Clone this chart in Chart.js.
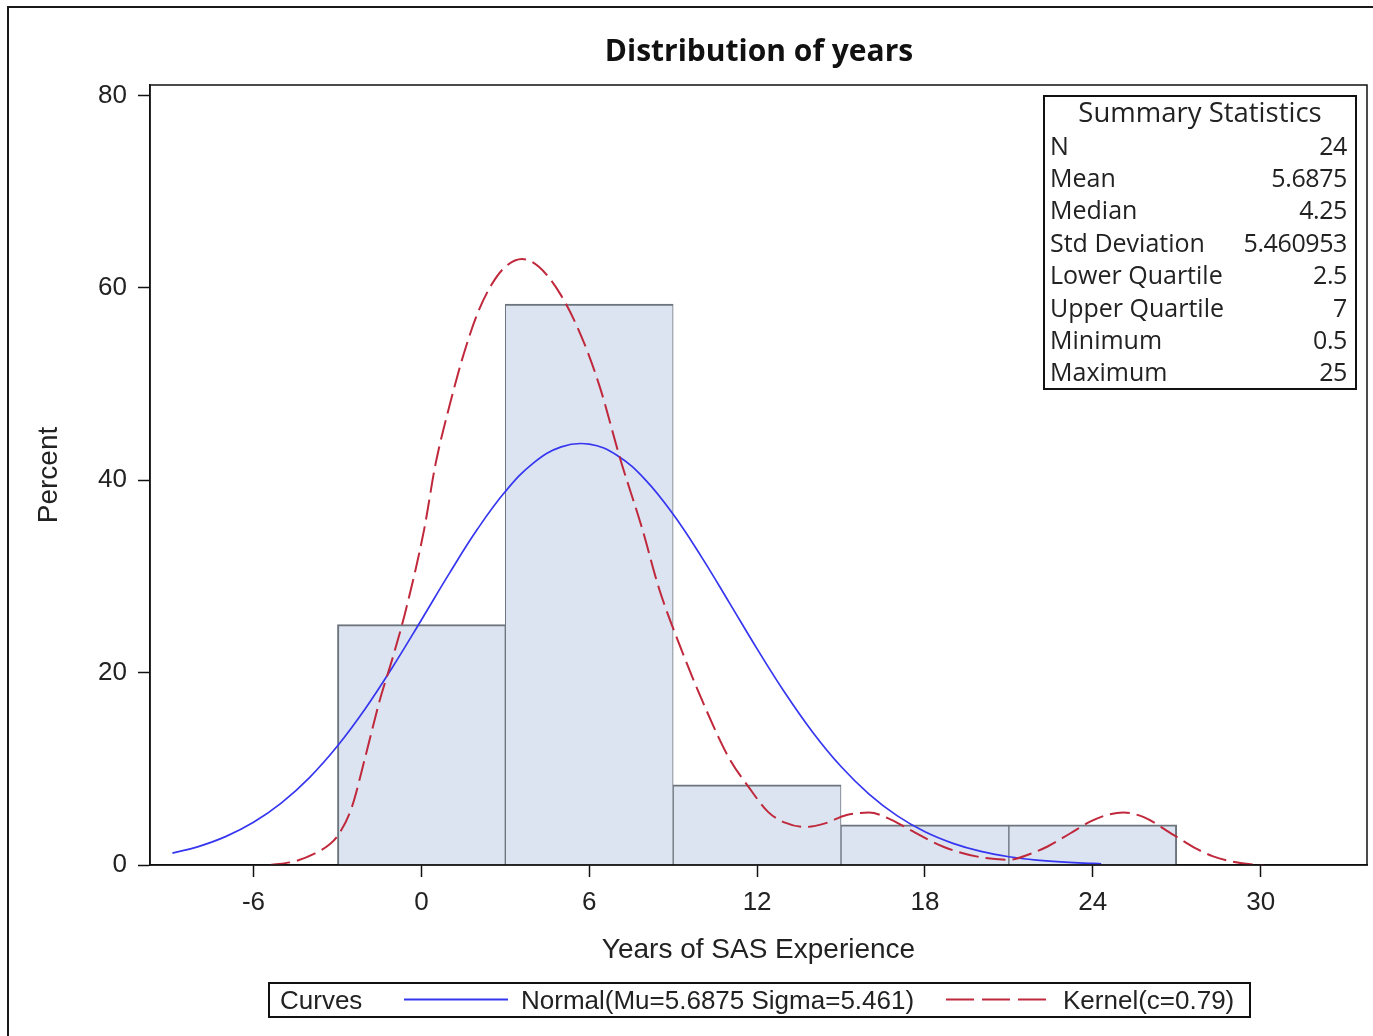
<!DOCTYPE html>
<html>
<head>
<meta charset="utf-8">
<script src="https://cdn.jsdelivr.net/npm/chart.js@4.4.1/dist/chart.umd.min.js"></script>
<style>
  html, body { margin: 0; padding: 0; background: #fff; overflow: hidden; }
  #wrap { position: relative; width: 1373px; height: 1036px; }
  #frame { position: absolute; left: 7px; top: 6px; width: 1400px; height: 1100px;
           border-left: 2px solid #1a1a1a; border-top: 2px solid #1a1a1a; pointer-events: none; }
  canvas { position: absolute; left: 0; top: 0; }
  #title { position: absolute; left: 459px; top: 32px; width: 600px; height: 36px; line-height: 36px;
           text-align: center; font-family: "Open Sans", sans-serif; font-weight: bold; font-size: 30px; color: #111; }
  .box { position: absolute; border: 2px solid #111; background: #fff; box-sizing: border-box; }
  .row { position: absolute; height: 32px; line-height: 32px; white-space: nowrap;
         font-family: "Open Sans", sans-serif; font-size: 25px; color: #222; }
  .leg { position: absolute; height: 34px; line-height: 34px; white-space: nowrap;
         font-family: "Liberation Sans", Arial, sans-serif; font-size: 26px; color: #222; }
</style>
</head>
<body>
<div id="wrap">
  <canvas id="c" width="1373" height="1036"></canvas>
  <div id="frame"></div>
  <div id="title"></div>
  <div id="stats" class="box" style="left:1043px; top:95px; width:314px; height:295px;"></div>
  <div id="legend" class="box" style="left:268px; top:982px; width:983px; height:36px;"></div>
</div>
<script>
// ---------- data ----------
const binCenters  = [0, 6, 12, 18, 24];
const binPercents = [25, 58.33, 8.33, 4.17, 4.17];

const normalX = [-8.9, -8, -7, -6, -5, -4, -3, -2, -1, 0, 1, 2, 3, 4, 5, 6, 7, 8, 9, 10, 11, 12, 13, 14, 15, 16, 17, 18, 19, 20, 21, 22, 23, 24, 24.3];
const normalY = [1.24, 1.89, 2.95, 4.44, 6.46, 9.09, 12.37, 16.27, 20.71, 25.48, 30.32, 34.90, 38.83, 41.79, 43.48, 43.76, 42.58, 40.07, 36.46, 32.09, 27.31, 22.47, 17.88, 13.76, 10.24, 7.37, 5.13, 3.45, 2.25, 1.41, 0.86, 0.51, 0.29, 0.16, 0.13];

const kernelX = [-5.4, -4.5, -3.8, -3.3, -3.0, -2.5, -2.0, -1.5, -1.0, -0.6, 0.1, 0.5, 1.0, 1.5, 2.0, 2.5, 3.0, 3.6, 4.2, 5.0, 5.8, 6.4, 7.1, 7.9, 8.5, 9.2, 10.2, 11.0, 11.7, 12.4, 13.0, 13.7, 14.4, 15.2, 16.0, 16.8, 17.5, 18.7, 20.0, 21.0, 21.8, 22.4, 23.2, 23.9, 24.5, 25.1, 25.8, 26.9, 27.7, 28.3, 29.0, 29.7, 30.1];
const kernelY = [0, 0.4, 1.2, 2.1, 3.0, 5.9, 11.3, 17.0, 21.8, 26.0, 34.9, 41.6, 47.7, 53.0, 57.3, 60.3, 62.2, 63.0, 62.2, 59.2, 54.4, 49.5, 42.3, 34.9, 28.7, 23.1, 16.0, 11.1, 8.1, 5.5, 4.4, 3.95, 4.3, 5.2, 5.45, 4.7, 3.6, 1.85, 0.8, 0.55, 1.2, 1.95, 3.3, 4.5, 5.2, 5.45, 5.0, 3.1, 1.7, 0.9, 0.35, 0.05, 0];

const xTicks = [-6, 0, 6, 12, 18, 24, 30];
const yTicks = [0, 20, 40, 60, 80];

const statLabels = ["N", "Mean", "Median", "Std Deviation", "Lower Quartile", "Upper Quartile", "Minimum", "Maximum"];
const statValues = ["24", "5.6875", "4.25", "5.460953", "2.5", "7", "0.5", "25"];

const titleText = "Distribution of years";
const xTitle = "Years of SAS Experience";
const yTitle = "Percent";
const legendTitle = "Curves";
const normalLabel = "Normal(Mu=5.6875 Sigma=5.461)";
const kernelLabel = "Kernel(c=0.79)";

// ---------- chart ----------
const tickFont = { family: "'Liberation Sans', Arial, sans-serif", size: 26 };
const titleFont = { family: "'Liberation Sans', Arial, sans-serif", size: 28 };

const framePlugin = {
  id: 'frame',
  afterDraw(chart) {
    const { ctx, chartArea: a } = chart;
    ctx.save();
    ctx.strokeStyle = '#111';
    ctx.lineWidth = 1.5;
    ctx.strokeRect(a.left, a.top, a.right - a.left, a.bottom - a.top);
    ctx.restore();
  }
};

const lastBin = binCenters.length - 1;
document.getElementById('title').textContent = titleText;

new Chart(document.getElementById('c'), {
  type: 'bar',
  data: {
    datasets: [
      {
        type: 'line',
        label: kernelLabel,
        data: kernelX.map((x, i) => ({ x, y: kernelY[i] })),
        borderColor: '#c0283c',
        borderWidth: 2,
        borderDash: [20, 7],
        pointRadius: 0,
        cubicInterpolationMode: 'monotone',
        fill: false,
        order: 1
      },
      {
        type: 'line',
        label: normalLabel,
        data: normalX.map((x, i) => ({ x, y: normalY[i] })),
        borderColor: '#3636f0',
        borderWidth: 1.7,
        pointRadius: 0,
        tension: 0.4,
        fill: false,
        order: 2
      },
      {
        type: 'bar',
        label: 'Percent',
        data: binCenters.map((x, i) => ({ x, y: binPercents[i] })),
        backgroundColor: '#dbe4f0',
        borderColor: '#6c747d',
        borderWidth: (ctx) => ({ top: 2, bottom: 0,
          left: ctx.dataIndex === 0 ? 2 : 1,
          right: ctx.dataIndex === lastBin ? 2 : 1 }),
        borderSkipped: false,
        categoryPercentage: 1,
        barPercentage: 1,
        order: 3
      }
    ]
  },
  options: {
    responsive: false,
    animation: false,
    devicePixelRatio: 1,
    layout: { padding: { left: 0, top: 85, right: 6, bottom: 0 } },
    plugins: {
      legend: { display: false },
      tooltip: { enabled: false },
      title: { display: false }
    },
    scales: {
      x: {
        type: 'linear',
        min: -9.7,
        max: 33.8,
        offset: false,
        afterFit(scale) { scale.height = 171; },
        afterBuildTicks(scale) { scale.ticks = xTicks.map(v => ({ value: v })); },
        grid: { display: true, drawOnChartArea: false, drawTicks: true, tickLength: 12,
                tickColor: '#111', tickWidth: 1.5, offset: false },
        border: { display: true, color: '#111', width: 1.5 },
        ticks: { font: tickFont, color: '#222', padding: 10, maxRotation: 0, autoSkip: false },
        title: { display: true, text: xTitle, color: '#222', font: { ...titleFont, lineHeight: 1.2 },
                 padding: { top: 0, bottom: 69 } }
      },
      y: {
        type: 'linear',
        min: 0,
        max: 81.1,
        afterFit(scale) { scale.width = 150; },
        afterBuildTicks(scale) { scale.ticks = yTicks.map(v => ({ value: v })); },
        grid: { display: true, drawOnChartArea: false, drawTicks: true, tickLength: 12,
                tickColor: '#111', tickWidth: 1.5 },
        border: { display: true, color: '#111', width: 1.5 },
        ticks: { font: tickFont, color: '#222', padding: 11 },
        title: { display: true, text: yTitle, color: '#222', font: { ...titleFont, lineHeight: 1.2 },
                 padding: { top: 32, bottom: 0 } }
      }
    }
  },
  plugins: [framePlugin]
});

// ---------- summary statistics box ----------
(function () {
  const box = document.getElementById('stats');
  const boxTop = 95;
  const head = document.createElement('div');
  head.className = 'row';
  head.textContent = 'Summary Statistics';
  head.style.left = '0px'; head.style.width = '310px'; head.style.textAlign = 'center';
  head.style.fontSize = '27.5px';
  head.style.top = (112 - 16 - boxTop - 2) + 'px';
  box.appendChild(head);
  statLabels.forEach((lab, i) => {
    const cy = 144.5 + i * 32.4;
    const l = document.createElement('div');
    l.className = 'row'; l.textContent = lab;
    l.style.left = '5px'; l.style.top = (cy - 16 - boxTop - 2) + 'px';
    box.appendChild(l);
    const v = document.createElement('div');
    v.className = 'row'; v.textContent = statValues[i];
    v.style.right = '8px'; v.style.top = (cy - 16 - boxTop - 2) + 'px';
    v.style.letterSpacing = '-0.4px';
    box.appendChild(v);
  });
})();

// ---------- legend box ----------
(function () {
  const box = document.getElementById('legend');
  const left0 = 268, top0 = 982;
  function text(t, x) {
    const d = document.createElement('div');
    d.className = 'leg'; d.textContent = t;
    d.style.left = (x - left0 - 2) + 'px'; d.style.top = '-1px';
    box.appendChild(d);
  }
  text(legendTitle, 280);
  text(normalLabel, 521);
  text(kernelLabel, 1063);
  const svgNS = 'http://www.w3.org/2000/svg';
  const svg = document.createElementNS(svgNS, 'svg');
  svg.setAttribute('width', '979'); svg.setAttribute('height', '32');
  svg.style.position = 'absolute'; svg.style.left = '0px'; svg.style.top = '0px';
  function line(x1, x2, color, w, dash) {
    const l = document.createElementNS(svgNS, 'line');
    l.setAttribute('x1', x1 - left0 - 2); l.setAttribute('x2', x2 - left0 - 2);
    l.setAttribute('y1', 999.5 - top0 - 2); l.setAttribute('y2', 999.5 - top0 - 2);
    l.setAttribute('stroke', color); l.setAttribute('stroke-width', w);
    if (dash) l.setAttribute('stroke-dasharray', dash);
    svg.appendChild(l);
  }
  line(404, 508, '#3636f0', 1.8, null);
  line(946, 1046, '#c0283c', 2, '28 8');
  box.appendChild(svg);
})();
</script>
</body>
</html>
